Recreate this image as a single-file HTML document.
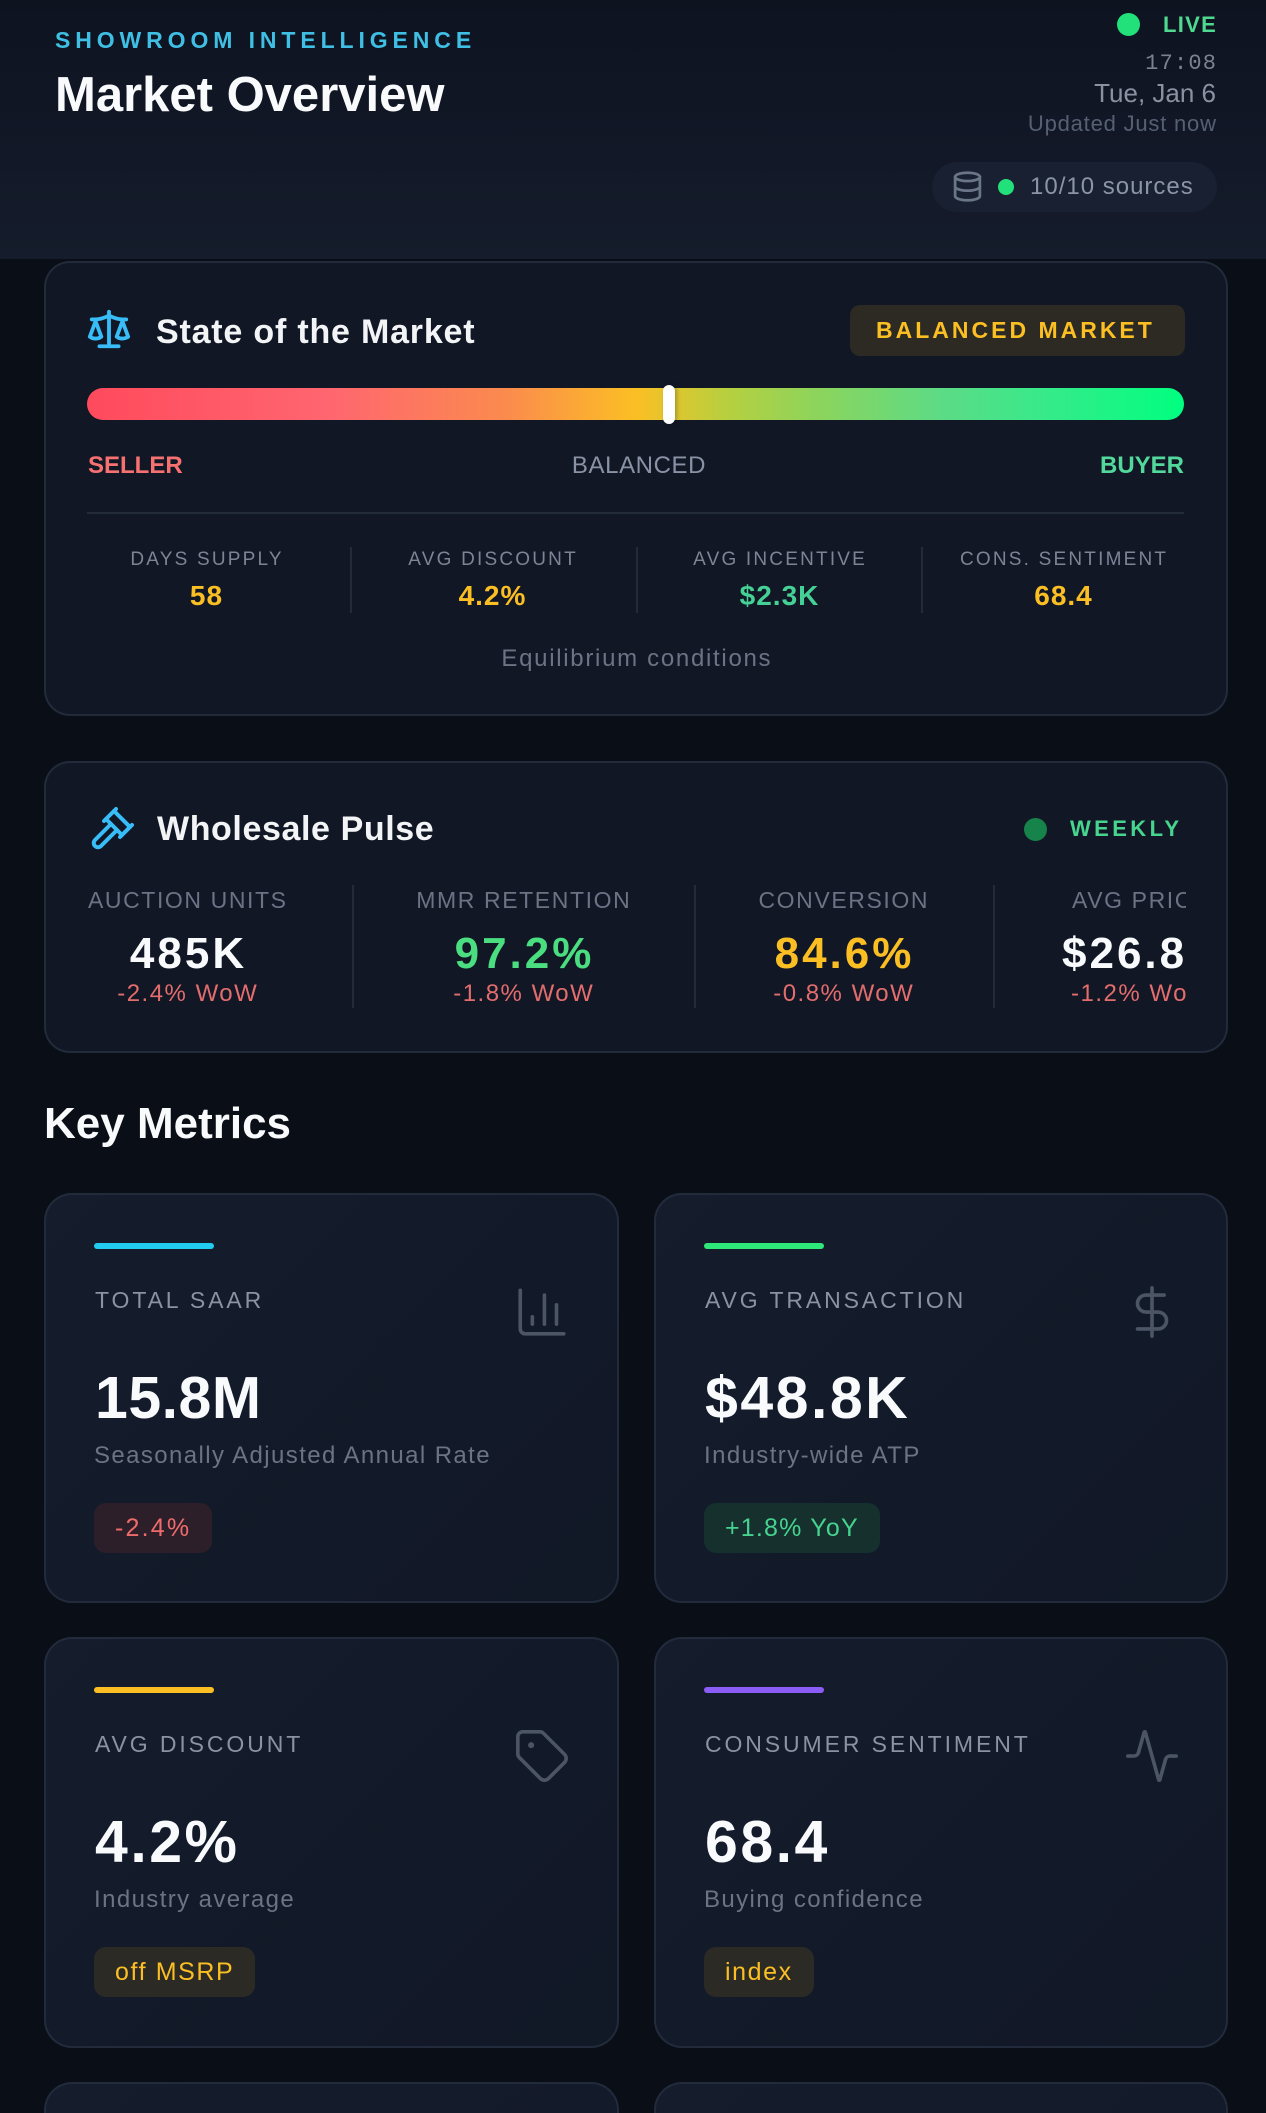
<!DOCTYPE html>
<html><head><meta charset="utf-8">
<style>
*{margin:0;padding:0;box-sizing:border-box}
html,body{width:1266px;height:2113px;overflow:hidden;background:#0a0e17;font-family:"Liberation Sans",Arial,sans-serif}
body{position:relative}
.t{position:absolute;line-height:1;white-space:nowrap}
.r{text-align:right}
.c{text-align:center;width:600px}
.abs{position:absolute}
.card{position:absolute;border-radius:26px;background:#111725;box-shadow:inset 0 0 0 2px #222b3a}
.mc{position:absolute;width:575px;height:410px;border-radius:28px;background:linear-gradient(135deg,#151d2d 0%,#121928 60%,#111826 100%);box-shadow:inset 0 0 0 2px #222b3b}
.mc .acc{position:absolute;left:50px;top:50px;width:120px;height:6px;border-radius:3px}
.mc .lab{position:absolute;left:51px;top:96px;font-size:23px;letter-spacing:2.9px;color:#8b93a3;line-height:1;white-space:nowrap}
.mc .ico{position:absolute;left:469px;top:90px;width:58px;height:58px}
.mc .val{position:absolute;left:51px;top:176px;font-size:59px;font-weight:700;letter-spacing:2.5px;color:#f8fafc;line-height:1;white-space:nowrap}
.mc .desc{position:absolute;left:50px;top:251px;font-size:24px;letter-spacing:1.4px;color:#6b7385;line-height:1;white-space:nowrap}
.mc .bdg{position:absolute;left:50px;top:310px;height:50px;line-height:50px;padding:0 21px;border-radius:12px;font-size:25px;letter-spacing:1.2px;white-space:nowrap}
.stub{position:absolute;top:2082px;height:31px;border:2px solid #222b3b;border-bottom:none;border-radius:28px 28px 0 0;background:linear-gradient(135deg,#151d2d 0%,#131a29 100%)}
.vd{position:absolute;width:2px;background:#222b3a}
</style></head>
<body>

<!-- HEADER -->
<div class="abs" style="left:0;top:0;width:1266px;height:259px;background:linear-gradient(180deg,#0e1320 0%,#121827 60%,#151c2b 100%)"></div>
<div class="t" style="left:55px;top:29px;font-size:23px;font-weight:700;letter-spacing:4.9px;color:#3fbfe3">SHOWROOM INTELLIGENCE</div>
<div class="t" style="left:55px;top:71px;font-size:49px;font-weight:700;color:#f8fafc">Market Overview</div>

<div class="abs" style="left:1117px;top:13px;width:23px;height:23px;border-radius:50%;background:#22e07a"></div>
<div class="t" style="left:1163px;top:14px;font-size:22px;font-weight:700;letter-spacing:1.3px;color:#4fd88f">LIVE</div>
<div class="t r" style="right:50px;top:53px;font-family:'Liberation Mono',monospace;font-size:22px;letter-spacing:1.2px;margin-right:-1.2px;color:#7a8292">17:08</div>
<div class="t r" style="right:50px;top:80px;font-size:26px;color:#8a92a2">Tue, Jan 6</div>
<div class="t r" style="right:50px;top:113px;font-size:22px;letter-spacing:0.8px;margin-right:-0.8px;color:#566073">Updated Just now</div>

<div class="abs" style="left:932px;top:162px;width:285px;height:50px;border-radius:25px;background:#182031"></div>
<svg class="abs" style="left:951px;top:170px" width="33" height="33" viewBox="0 0 24 24" fill="none" stroke="#6b7588" stroke-width="2" stroke-linecap="round" stroke-linejoin="round"><ellipse cx="12" cy="5" rx="9" ry="3"/><path d="M3 5V19A9 3 0 0 0 21 19V5"/><path d="M3 12A9 3 0 0 0 21 12"/></svg>
<div class="abs" style="left:998px;top:179px;width:16px;height:16px;border-radius:50%;background:#22e07a"></div>
<div class="t" style="left:1030px;top:175px;font-size:24px;letter-spacing:1px;color:#8b95a7">10/10 sources</div>

<!-- STATE OF THE MARKET -->
<div class="card" style="left:44px;top:261px;width:1184px;height:455px"></div>
<svg class="abs" style="left:86px;top:306px" width="46" height="46" viewBox="0 0 24 24" fill="none" stroke="#38bdf8" stroke-width="2" stroke-linecap="round" stroke-linejoin="round"><path d="m16 16 3-8 3 8c-.87.65-1.92 1-3 1s-2.13-.35-3-1Z"/><path d="m2 16 3-8 3 8c-.87.65-1.92 1-3 1s-2.13-.35-3-1Z"/><path d="M7 21h10"/><path d="M12 3v18"/><path d="M3 7h2c2 0 5-1 7-2 2 1 5 2 7 2h2"/></svg>
<div class="t" style="left:156px;top:315px;font-size:34px;font-weight:700;letter-spacing:0.8px;color:#f3f4f6">State of the Market</div>
<div class="abs" style="left:850px;top:305px;width:335px;height:51px;border-radius:10px;background:#2c2a22"></div>
<div class="t" style="left:876px;top:319px;font-size:23px;font-weight:700;letter-spacing:3px;color:#fbbf24">BALANCED MARKET</div>

<div class="abs" style="left:87px;top:388px;width:1097px;height:32px;border-radius:16px;background:linear-gradient(90deg,#ff4a5c 0%,#ff6670 22%,#fb8a4e 38%,#fbbf24 50%,#b9cf3e 58%,#8fd45a 66%,#5cdb86 78%,#34eb8a 88%,#00ff7f 100%)"></div>
<div class="abs" style="left:663px;top:385px;width:12px;height:39px;border-radius:6px;background:#fff;box-shadow:2px 0 4px rgba(0,0,0,0.25)"></div>

<div class="t" style="left:88px;top:454px;font-size:24px;font-weight:700;color:#f87171">SELLER</div>
<div class="t c" style="left:339px;top:454px;font-size:24px;letter-spacing:0.6px;color:#8a93a5">BALANCED</div>
<div class="t r" style="right:82px;top:454px;font-size:24px;font-weight:700;color:#52d89a">BUYER</div>

<div class="abs" style="left:87px;top:512px;width:1097px;height:2px;background:#222b3a"></div>

<div class="vd" style="left:350px;top:547px;height:66px"></div>
<div class="vd" style="left:636px;top:547px;height:66px"></div>
<div class="vd" style="left:921px;top:547px;height:66px"></div>

<div class="t c" style="left:-94px;top:550px;font-size:19px;letter-spacing:2.2px;padding-left:2.2px;color:#7c8495">DAYS SUPPLY</div>
<div class="t c" style="left:192px;top:550px;font-size:19px;letter-spacing:2.2px;padding-left:2.2px;color:#7c8495">AVG DISCOUNT</div>
<div class="t c" style="left:479px;top:550px;font-size:19px;letter-spacing:2.2px;padding-left:2.2px;color:#7c8495">AVG INCENTIVE</div>
<div class="t c" style="left:763px;top:550px;font-size:19px;letter-spacing:2.2px;padding-left:2.2px;color:#7c8495">CONS. SENTIMENT</div>

<div class="t c" style="left:-94px;top:582px;font-size:28px;font-weight:700;letter-spacing:1px;padding-left:1px;color:#fbbf24">58</div>
<div class="t c" style="left:192px;top:582px;font-size:28px;font-weight:700;letter-spacing:1px;padding-left:1px;color:#fbbf24">4.2%</div>
<div class="t c" style="left:479px;top:582px;font-size:28px;font-weight:700;letter-spacing:1px;padding-left:1px;color:#45d195">$2.3K</div>
<div class="t c" style="left:763px;top:582px;font-size:28px;font-weight:700;letter-spacing:1px;padding-left:1px;color:#fbbf24">68.4</div>

<div class="t c" style="left:336px;top:647px;font-size:24px;letter-spacing:1.7px;padding-left:1.7px;color:#6b7385">Equilibrium conditions</div>

<!-- WHOLESALE PULSE -->
<div class="card" style="left:44px;top:761px;width:1184px;height:292px"></div>
<svg class="abs" style="left:88px;top:805px" width="48" height="48" viewBox="0 0 24 24" fill="none" stroke="#38bdf8" stroke-width="2" stroke-linecap="round" stroke-linejoin="round"><path d="m14.5 12.5-8 8a2.119 2.119 0 1 1-3-3l8-8"/><path d="m16 16 6-6"/><path d="m8 8 6-6"/><path d="m9 7 8 8"/><path d="m21 11-8-8"/></svg>
<div class="t" style="left:157px;top:812px;font-size:34px;font-weight:700;letter-spacing:0.6px;color:#f3f4f6">Wholesale Pulse</div>
<div class="abs" style="left:1024px;top:818px;width:23px;height:23px;border-radius:50%;background:#16834a"></div>
<div class="t" style="left:1070px;top:818px;font-size:22px;font-weight:700;letter-spacing:3.4px;color:#46d48e">WEEKLY</div>

<div class="vd" style="left:352px;top:885px;height:123px"></div>
<div class="vd" style="left:694px;top:885px;height:123px"></div>
<div class="vd" style="left:993px;top:885px;height:123px"></div>

<div class="t c" style="left:-113px;top:889px;font-size:23px;letter-spacing:1.6px;padding-left:1.6px;color:#6b7385">AUCTION UNITS</div>
<div class="t c" style="left:223px;top:889px;font-size:23px;letter-spacing:1.6px;padding-left:1.6px;color:#6b7385">MMR RETENTION</div>
<div class="t c" style="left:543px;top:889px;font-size:23px;letter-spacing:1.6px;padding-left:1.6px;color:#6b7385">CONVERSION</div>

<div class="t c" style="left:-113px;top:932px;font-size:44px;font-weight:700;letter-spacing:3px;padding-left:3px;color:#f8fafc">485K</div>
<div class="t c" style="left:223px;top:932px;font-size:44px;font-weight:700;letter-spacing:3px;padding-left:3px;color:#4ade80">97.2%</div>
<div class="t c" style="left:543px;top:932px;font-size:44px;font-weight:700;letter-spacing:3px;padding-left:3px;color:#fbbf24">84.6%</div>

<div class="t c" style="left:-113px;top:982px;font-size:24px;letter-spacing:1.5px;padding-left:1.5px;color:#e36d6d">-2.4% WoW</div>
<div class="t c" style="left:223px;top:982px;font-size:24px;letter-spacing:1.5px;padding-left:1.5px;color:#e36d6d">-1.8% WoW</div>
<div class="t c" style="left:543px;top:982px;font-size:24px;letter-spacing:1.5px;padding-left:1.5px;color:#e36d6d">-0.8% WoW</div>

<div class="abs" style="left:995px;top:880px;width:191px;height:140px;overflow:hidden">
  <div class="t" style="left:0;width:191px;top:9px;font-size:23px;letter-spacing:1.6px;color:#6b7385;padding-left:77px">AVG PRICE</div>
  <div class="t" style="left:0;width:191px;top:52px;font-size:44px;font-weight:700;letter-spacing:3px;color:#f8fafc;padding-left:67px">$26.8K</div>
  <div class="t" style="left:0;width:191px;top:102px;font-size:24px;letter-spacing:1.5px;color:#e36d6d;padding-left:76px">-1.2% WoW</div>
</div>

<!-- KEY METRICS -->
<div class="t" style="left:44px;top:1102px;font-size:44px;font-weight:700;color:#f8fafc">Key Metrics</div>

<div class="mc" style="left:44px;top:1193px">
  <div class="acc" style="background:#22ccf0"></div>
  <div class="lab">TOTAL SAAR</div>
  <svg class="ico" viewBox="0 0 24 24" fill="none" stroke="#4b5566" stroke-width="1.5" stroke-linecap="round" stroke-linejoin="round"><path d="M3 3v16a2 2 0 0 0 2 2h16"/><path d="M18 17V9"/><path d="M13 17V5"/><path d="M8 17v-3"/></svg>
  <div class="val" style="letter-spacing:0.5px">15.8M</div>
  <div class="desc">Seasonally Adjusted Annual Rate</div>
  <div class="bdg" style="background:#2c1f2a;color:#ef6b6b;letter-spacing:2.2px">-2.4%</div>
</div>

<div class="mc" style="left:654px;top:1193px;width:574px">
  <div class="acc" style="background:#2ee87a"></div>
  <div class="lab">AVG TRANSACTION</div>
  <svg class="ico" viewBox="0 0 24 24" fill="none" stroke="#4b5566" stroke-width="1.5" stroke-linecap="round" stroke-linejoin="round"><path d="M12 2v20"/><path d="M17 5H9.5a3.5 3.5 0 0 0 0 7h5a3.5 3.5 0 0 1 0 7H6"/></svg>
  <div class="val">$48.8K</div>
  <div class="desc">Industry-wide ATP</div>
  <div class="bdg" style="background:#16302e;color:#45d38f">+1.8% YoY</div>
</div>

<div class="mc" style="left:44px;top:1637px;height:411px">
  <div class="acc" style="background:#fbbf24"></div>
  <div class="lab">AVG DISCOUNT</div>
  <svg class="ico" viewBox="0 0 24 24" fill="none" stroke="#4b5566" stroke-width="1.5" stroke-linecap="round" stroke-linejoin="round"><path d="M12.586 2.586A2 2 0 0 0 11.172 2H4a2 2 0 0 0-2 2v7.172a2 2 0 0 0 .586 1.414l8.704 8.704a2.426 2.426 0 0 0 3.42 0l6.58-6.58a2.426 2.426 0 0 0 0-3.42z"/><circle cx="7.5" cy="7.5" r=".5" fill="#4b5566"/></svg>
  <div class="val">4.2%</div>
  <div class="desc">Industry average</div>
  <div class="bdg" style="background:#2b2a25;color:#fbbf24;letter-spacing:1.6px">off MSRP</div>
</div>

<div class="mc" style="left:654px;top:1637px;width:574px;height:411px">
  <div class="acc" style="background:#8b5cf6"></div>
  <div class="lab">CONSUMER SENTIMENT</div>
  <svg class="ico" viewBox="0 0 24 24" fill="none" stroke="#4b5566" stroke-width="1.5" stroke-linecap="round" stroke-linejoin="round"><path d="M22 12h-2.48a2 2 0 0 0-1.93 1.46l-2.35 8.36a.25.25 0 0 1-.48 0L9.24 2.18a.25.25 0 0 0-.48 0l-2.35 8.36A2 2 0 0 1 4.49 12H2"/></svg>
  <div class="val">68.4</div>
  <div class="desc">Buying confidence</div>
  <div class="bdg" style="background:#2b2a25;color:#fbbf24;letter-spacing:1.6px">index</div>
</div>

<!-- Row 3 stubs (cut by page bottom) -->
<div class="stub" style="left:44px;width:575px"></div>
<div class="stub" style="left:654px;width:574px"></div>

</body></html>
